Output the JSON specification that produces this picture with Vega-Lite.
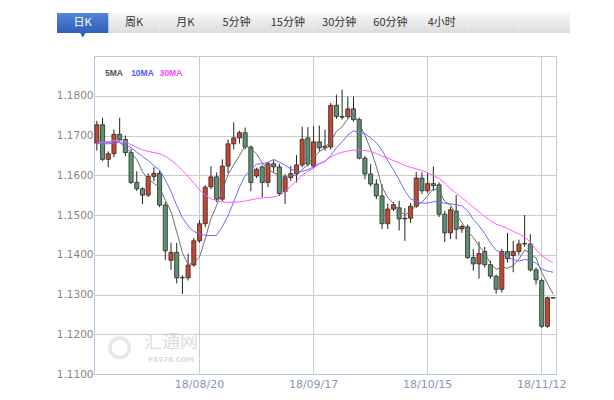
{
"$schema": "https://vega.github.io/schema/vega-lite/v6.json",
"background": "white",
"padding": {"left": 55, "top": 13, "right": 5, "bottom": 5},
"bounds": "flush",
"center": true,
"spacing": 23,
"config": {"font": "DejaVu Sans"},
"vconcat": [
{
"width": 536, "height": 20,
"view": {"stroke": null},
"data": {"values": [
{"tab": "日K", "label": "日K", "sel": true}, {"tab": "周K", "label": "周K", "sel": false}, {"tab": "月K", "label": "月K", "sel": false}, {"tab": "5分钟", "label": "5分钟", "sel": false},
{"tab": "15分钟", "label": "15分钟", "sel": false}, {"tab": "30分钟", "label": "30分钟", "sel": false}, {"tab": "60分钟", "label": "60分钟", "sel": false}, {"tab": "4小时", "label": "4小时", "sel": false},
{"tab": "_9", "label": "", "sel": false}, {"tab": "_10", "label": "", "sel": false}]},
"encoding": {"x": {"field": "tab", "type": "nominal", "sort": null, "axis": null,
  "scale": {"paddingInner": 0, "paddingOuter": 0.224, "align": 0}}},
"layer": [
{"mark": {"type": "bar", "color": {"gradient": "linear", "x1": 0, "y1": 0, "x2": 0, "y2": 1, "stops": [{"offset": 0, "color": "#f7f7f7"}, {"offset": 1, "color": "#dcdcdc"}]}}},
{"mark": {"type": "bar", "color": {"gradient": "linear", "x1": 0, "y1": 0, "x2": 0, "y2": 1, "stops": [{"offset": 0, "color": "#5585d6"}, {"offset": 1, "color": "#2f5fb8"}]}},
 "transform": [{"filter": "datum.sel"}]},
{"mark": {"type": "text", "text": "▼", "fontSize": 7, "baseline": "top", "dy": 8, "color": "#2f5fb8"},
 "transform": [{"filter": "datum.sel"}]},
{"mark": {"type": "text", "font": "Noto Sans CJK SC", "fontSize": 11},
 "encoding": {"text": {"field": "label"},
   "color": {"condition": {"test": "datum.sel", "value": "#ffffff"}, "value": "#333333"}}}
]
},
{
"width": 462, "height": 318,
"view": {"stroke": "#c8c8c8"},
"data": {"values": [
{"d":"18/07/25","o":1.1681,"h":1.1737,"l":1.1662,"c":1.1727,"m5":1.1690,"m10":1.1679,"m30":1.1681},
{"d":"18/07/26","o":1.1727,"h":1.1745,"l":1.1636,"c":1.1640,"m5":1.1686,"m10":1.1680,"m30":1.1683},
{"d":"18/07/27","o":1.1640,"h":1.1660,"l":1.1620,"c":1.1654,"m5":1.1682,"m10":1.1679,"m30":1.1685},
{"d":"18/07/30","o":1.1654,"h":1.1715,"l":1.1645,"c":1.1703,"m5":1.1686,"m10":1.1681,"m30":1.1687},
{"d":"18/07/31","o":1.1703,"h":1.1745,"l":1.1685,"c":1.1690,"m5":1.1683,"m10":1.1683,"m30":1.1688},
{"d":"18/08/01","o":1.1690,"h":1.1700,"l":1.1648,"c":1.1657,"m5":1.1669,"m10":1.1678,"m30":1.1684},
{"d":"18/08/02","o":1.1657,"h":1.1667,"l":1.1578,"c":1.1582,"m5":1.1657,"m10":1.1669,"m30":1.1677},
{"d":"18/08/03","o":1.1582,"h":1.1610,"l":1.1560,"c":1.1566,"m5":1.1640,"m10":1.1658,"m30":1.1670},
{"d":"18/08/06","o":1.1566,"h":1.1570,"l":1.1528,"c":1.1550,"m5":1.1609,"m10":1.1647,"m30":1.1664},
{"d":"18/08/07","o":1.1550,"h":1.1605,"l":1.1545,"c":1.1597,"m5":1.1590,"m10":1.1637,"m30":1.1660},
{"d":"18/08/08","o":1.1597,"h":1.1620,"l":1.1585,"c":1.1605,"m5":1.1580,"m10":1.1624,"m30":1.1657},
{"d":"18/08/09","o":1.1605,"h":1.1612,"l":1.1520,"c":1.1525,"m5":1.1569,"m10":1.1613,"m30":1.1654},
{"d":"18/08/10","o":1.1525,"h":1.1532,"l":1.1387,"c":1.1410,"m5":1.1537,"m10":1.1589,"m30":1.1648},
{"d":"18/08/13","o":1.1386,"h":1.1430,"l":1.1362,"c":1.1406,"m5":1.1509,"m10":1.1559,"m30":1.1638},
{"d":"18/08/14","o":1.1406,"h":1.1430,"l":1.1328,"c":1.1342,"m5":1.1458,"m10":1.1524,"m30":1.1626},
{"d":"18/08/15","o":1.1342,"h":1.1348,"l":1.1301,"c":1.1343,"m5":1.1405,"m10":1.1493,"m30":1.1612},
{"d":"18/08/16","o":1.1342,"h":1.1403,"l":1.1335,"c":1.1374,"m5":1.1375,"m10":1.1472,"m30":1.1597},
{"d":"18/08/17","o":1.1374,"h":1.1442,"l":1.1370,"c":1.1435,"m5":1.1380,"m10":1.1459,"m30":1.1580},
{"d":"18/08/20","o":1.1435,"h":1.1487,"l":1.1430,"c":1.1478,"m5":1.1394,"m10":1.1452,"m30":1.1563},
{"d":"18/08/21","o":1.1478,"h":1.1575,"l":1.1470,"c":1.1570,"m5":1.1440,"m10":1.1449,"m30":1.1550},
{"d":"18/08/22","o":1.1571,"h":1.1623,"l":1.1565,"c":1.1596,"m5":1.1491,"m10":1.1448,"m30":1.1541},
{"d":"18/08/23","o":1.1596,"h":1.1607,"l":1.1532,"c":1.1540,"m5":1.1524,"m10":1.1449,"m30":1.1536},
{"d":"18/08/24","o":1.1540,"h":1.1640,"l":1.1535,"c":1.1623,"m5":1.1561,"m10":1.1471,"m30":1.1533},
{"d":"18/08/27","o":1.1623,"h":1.1690,"l":1.1605,"c":1.1679,"m5":1.1602,"m10":1.1498,"m30":1.1532},
{"d":"18/08/28","o":1.1679,"h":1.1733,"l":1.1665,"c":1.1694,"m5":1.1626,"m10":1.1533,"m30":1.1532},
{"d":"18/08/29","o":1.1694,"h":1.1712,"l":1.1680,"c":1.1707,"m5":1.1649,"m10":1.1570,"m30":1.1533},
{"d":"18/08/30","o":1.1707,"h":1.1720,"l":1.1665,"c":1.1671,"m5":1.1675,"m10":1.1599,"m30":1.1535},
{"d":"18/08/31","o":1.1671,"h":1.1675,"l":1.1560,"c":1.1582,"m5":1.1667,"m10":1.1614,"m30":1.1538},
{"d":"18/09/03","o":1.1598,"h":1.1619,"l":1.1593,"c":1.1615,"m5":1.1654,"m10":1.1628,"m30":1.1541},
{"d":"18/09/04","o":1.1621,"h":1.1625,"l":1.1545,"c":1.1582,"m5":1.1631,"m10":1.1629,"m30":1.1543},
{"d":"18/09/05","o":1.1582,"h":1.1634,"l":1.1570,"c":1.1629,"m5":1.1616,"m10":1.1632,"m30":1.1544},
{"d":"18/09/06","o":1.1629,"h":1.1638,"l":1.1607,"c":1.1621,"m5":1.1606,"m10":1.1640,"m30":1.1545},
{"d":"18/09/07","o":1.1621,"h":1.1629,"l":1.1548,"c":1.1554,"m5":1.1600,"m10":1.1633,"m30":1.1550},
{"d":"18/09/10","o":1.1559,"h":1.1603,"l":1.1528,"c":1.1594,"m5":1.1596,"m10":1.1625,"m30":1.1558},
{"d":"18/09/11","o":1.1594,"h":1.1623,"l":1.1586,"c":1.1604,"m5":1.1600,"m10":1.1616,"m30":1.1572},
{"d":"18/09/12","o":1.1604,"h":1.1651,"l":1.1582,"c":1.1626,"m5":1.1600,"m10":1.1608,"m30":1.1586},
{"d":"18/09/13","o":1.1626,"h":1.1722,"l":1.1620,"c":1.1690,"m5":1.1614,"m10":1.1610,"m30":1.1600},
{"d":"18/09/14","o":1.1694,"h":1.1721,"l":1.1622,"c":1.1628,"m5":1.1628,"m10":1.1614,"m30":1.1610},
{"d":"18/09/17","o":1.1623,"h":1.1723,"l":1.1619,"c":1.1684,"m5":1.1646,"m10":1.1621,"m30":1.1618},
{"d":"18/09/18","o":1.1684,"h":1.1725,"l":1.1660,"c":1.1669,"m5":1.1659,"m10":1.1630,"m30":1.1628},
{"d":"18/09/19","o":1.1669,"h":1.1715,"l":1.1662,"c":1.1673,"m5":1.1669,"m10":1.1634,"m30":1.1636},
{"d":"18/09/20","o":1.1671,"h":1.1782,"l":1.1665,"c":1.1776,"m5":1.1686,"m10":1.1650,"m30":1.1646},
{"d":"18/09/21","o":1.1776,"h":1.1803,"l":1.1742,"c":1.1748,"m5":1.1710,"m10":1.1669,"m30":1.1653},
{"d":"18/09/24","o":1.1748,"h":1.1815,"l":1.1740,"c":1.1746,"m5":1.1722,"m10":1.1684,"m30":1.1658},
{"d":"18/09/25","o":1.1748,"h":1.1798,"l":1.1742,"c":1.1767,"m5":1.1742,"m10":1.1701,"m30":1.1661},
{"d":"18/09/26","o":1.1767,"h":1.1798,"l":1.1735,"c":1.1740,"m5":1.1755,"m10":1.1712,"m30":1.1663},
{"d":"18/09/27","o":1.1740,"h":1.1745,"l":1.1640,"c":1.1643,"m5":1.1729,"m10":1.1707,"m30":1.1663},
{"d":"18/09/28","o":1.1643,"h":1.1648,"l":1.1590,"c":1.1603,"m5":1.1700,"m10":1.1705,"m30":1.1662},
{"d":"18/10/01","o":1.1603,"h":1.1628,"l":1.1572,"c":1.1578,"m5":1.1666,"m10":1.1694,"m30":1.1660},
{"d":"18/10/02","o":1.1578,"h":1.1590,"l":1.1540,"c":1.1548,"m5":1.1622,"m10":1.1682,"m30":1.1655},
{"d":"18/10/03","o":1.1548,"h":1.1578,"l":1.1465,"c":1.1478,"m5":1.1570,"m10":1.1663,"m30":1.1648},
{"d":"18/10/04","o":1.1478,"h":1.1529,"l":1.1465,"c":1.1515,"m5":1.1544,"m10":1.1637,"m30":1.1643},
{"d":"18/10/05","o":1.1515,"h":1.1532,"l":1.1510,"c":1.1526,"m5":1.1529,"m10":1.1614,"m30":1.1637},
{"d":"18/10/08","o":1.1518,"h":1.1536,"l":1.1461,"c":1.1490,"m5":1.1511,"m10":1.1589,"m30":1.1631},
{"d":"18/10/09","o":1.1490,"h":1.1517,"l":1.1435,"c":1.1492,"m5":1.1500,"m10":1.1561,"m30":1.1625},
{"d":"18/10/10","o":1.1492,"h":1.1530,"l":1.1480,"c":1.1522,"m5":1.1509,"m10":1.1540,"m30":1.1620},
{"d":"18/10/11","o":1.1522,"h":1.1608,"l":1.1518,"c":1.1593,"m5":1.1525,"m10":1.1535,"m30":1.1616},
{"d":"18/10/12","o":1.1593,"h":1.1607,"l":1.1553,"c":1.1561,"m5":1.1532,"m10":1.1530,"m30":1.1612},
{"d":"18/10/15","o":1.1561,"h":1.1606,"l":1.1555,"c":1.1579,"m5":1.1549,"m10":1.1530,"m30":1.1606},
{"d":"18/10/16","o":1.1579,"h":1.1622,"l":1.1560,"c":1.1574,"m5":1.1566,"m10":1.1533,"m30":1.1600},
{"d":"18/10/17","o":1.1576,"h":1.1582,"l":1.1495,"c":1.1502,"m5":1.1562,"m10":1.1535,"m30":1.1592},
{"d":"18/10/18","o":1.1502,"h":1.1510,"l":1.1432,"c":1.1455,"m5":1.1534,"m10":1.1529,"m30":1.1580},
{"d":"18/10/19","o":1.1455,"h":1.1520,"l":1.1440,"c":1.1513,"m5":1.1525,"m10":1.1528,"m30":1.1566},
{"d":"18/10/22","o":1.1510,"h":1.1550,"l":1.1439,"c":1.1464,"m5":1.1502,"m10":1.1526,"m30":1.1555},
{"d":"18/10/23","o":1.1465,"h":1.1476,"l":1.1455,"c":1.1471,"m5":1.1481,"m10":1.1523,"m30":1.1543},
{"d":"18/10/24","o":1.1470,"h":1.1476,"l":1.1390,"c":1.1393,"m5":1.1459,"m10":1.1511,"m30":1.1532},
{"d":"18/10/25","o":1.1393,"h":1.1414,"l":1.1360,"c":1.1377,"m5":1.1444,"m10":1.1489,"m30":1.1520},
{"d":"18/10/26","o":1.1377,"h":1.1433,"l":1.1340,"c":1.1403,"m5":1.1422,"m10":1.1473,"m30":1.1508},
{"d":"18/10/29","o":1.1408,"h":1.1420,"l":1.1368,"c":1.1375,"m5":1.1404,"m10":1.1453,"m30":1.1496},
{"d":"18/10/30","o":1.1375,"h":1.1385,"l":1.1340,"c":1.1346,"m5":1.1379,"m10":1.1430,"m30":1.1486},
{"d":"18/10/31","o":1.1346,"h":1.1350,"l":1.1302,"c":1.1313,"m5":1.1363,"m10":1.1411,"m30":1.1477},
{"d":"18/11/01","o":1.1313,"h":1.1415,"l":1.1305,"c":1.1408,"m5":1.1369,"m10":1.1406,"m30":1.1472},
{"d":"18/11/02","o":1.1408,"h":1.1455,"l":1.1380,"c":1.1390,"m5":1.1366,"m10":1.1394,"m30":1.1466},
{"d":"18/11/05","o":1.1398,"h":1.1435,"l":1.1356,"c":1.1408,"m5":1.1373,"m10":1.1388,"m30":1.1459},
{"d":"18/11/06","o":1.1408,"h":1.1438,"l":1.1400,"c":1.1427,"m5":1.1389,"m10":1.1384,"m30":1.1452},
{"d":"18/11/07","o":1.1427,"h":1.1500,"l":1.1420,"c":1.1428,"m5":1.1412,"m10":1.1388,"m30":1.1445},
{"d":"18/11/08","o":1.1427,"h":1.1452,"l":1.1358,"c":1.1362,"m5":1.1403,"m10":1.1386,"m30":1.1432},
{"d":"18/11/09","o":1.1362,"h":1.1368,"l":1.1325,"c":1.1337,"m5":1.1392,"m10":1.1379,"m30":1.1412},
{"d":"18/11/12","o":1.1335,"h":1.1340,"l":1.1216,"c":1.1220,"m5":1.1355,"m10":1.1364,"m30":1.1398},
{"d":"18/11/13","o":1.1220,"h":1.1295,"l":1.1216,"c":1.1292,"m5":1.1328,"m10":1.1359,"m30":1.1388},
{"d":"18/11/14","o":1.1291,"h":1.1293,"l":1.1290,"c":1.1292,"m5":1.1301,"m10":1.1356,"m30":1.1380}
]},
"encoding": {
  "x": {"field": "d", "type": "ordinal", "sort": null, "title": null,
    "scale": {"paddingInner": 0, "paddingOuter": 0},
    "axis": {"values": ["18/08/20", "18/09/17", "18/10/15", "18/11/12"], "bandPosition": 0.5,
      "labelAngle": 0, "labelFontSize": 11, "labelColor": "#8496b4", "labelPadding": 4,
      "ticks": false, "domainColor": "#b4c8e6", "grid": true, "gridColor": "#cccccc", "gridWidth": 1}}
},
"layer": [
{"mark": {"type": "rule", "color": "#222222", "strokeWidth": 1},
 "encoding": {
   "y": {"field": "l", "type": "quantitative", "title": null,
     "scale": {"domain": [1.11, 1.19], "zero": false, "nice": false},
     "axis": {"values": [1.11, 1.12, 1.13, 1.14, 1.15, 1.16, 1.17, 1.18], "format": ".4f",
       "labelFontSize": 10.5, "labelColor": "#858585", "labelPadding": 1, "ticks": false,
       "domainColor": "#b4c8e6", "gridColor": "#cccccc", "minExtent": 37, "maxExtent": 37}},
   "y2": {"field": "h"}}},
{"mark": {"type": "bar", "width": {"band": 0.72}, "stroke": "#2a2a2a", "strokeWidth": 0.8},
 "encoding": {
   "y": {"field": "o", "type": "quantitative"},
   "y2": {"field": "c"},
   "color": {"condition": {"test": "datum.c > datum.o", "value": "#c8452f"}, "value": "#5d9170"}}},
{"mark": {"type": "line", "color": "#6e6e6e", "strokeWidth": 1},
 "encoding": {"y": {"field": "m5", "type": "quantitative"}}},
{"mark": {"type": "line", "color": "#6b6bff", "strokeWidth": 1},
 "encoding": {"y": {"field": "m10", "type": "quantitative"}}},
{"mark": {"type": "line", "color": "#ff5cff", "strokeWidth": 1},
 "encoding": {"y": {"field": "m30", "type": "quantitative"}}},
{"data": {"values": [{}]},
 "mark": {"type": "text", "text": "5MA", "font": "Liberation Sans", "fontSize": 8.5, "fontWeight": "bold", "color": "#555555"},
 "encoding": {"x": {"datum": "18/07/30"}, "y": {"datum": 1.1856}}},
{"data": {"values": [{}]},
 "mark": {"type": "text", "text": "10MA", "font": "Liberation Sans", "fontSize": 8.5, "fontWeight": "bold", "color": "#5555ff"},
 "encoding": {"x": {"datum": "18/08/06"}, "y": {"datum": 1.1856}}},
{"data": {"values": [{}]},
 "mark": {"type": "text", "text": "30MA", "font": "Liberation Sans", "fontSize": 8.5, "fontWeight": "bold", "color": "#ff44ff"},
 "encoding": {"x": {"datum": "18/08/13"}, "y": {"datum": 1.1856}}},
{"data": {"values": [{}]},
 "mark": {"type": "point", "shape": "circle", "size": 380, "filled": false, "stroke": "#dedede", "strokeWidth": 3.5},
 "encoding": {"x": {"datum": "18/07/31"}, "y": {"datum": 1.1166}}},
{"data": {"values": [{}]},
 "mark": {"type": "text", "text": "汇通网", "font": "Noto Sans CJK SC", "fontSize": 18, "color": "#dcdcdc"},
 "encoding": {"x": {"datum": "18/08/13"}, "y": {"datum": 1.1177}}},
{"data": {"values": [{}]},
 "mark": {"type": "text", "text": "FX678.COM", "fontSize": 7, "fontWeight": "bold", "color": "#dcdcdc"},
 "encoding": {"x": {"datum": "18/08/13"}, "y": {"datum": 1.1135}}}
]
}
]
}
